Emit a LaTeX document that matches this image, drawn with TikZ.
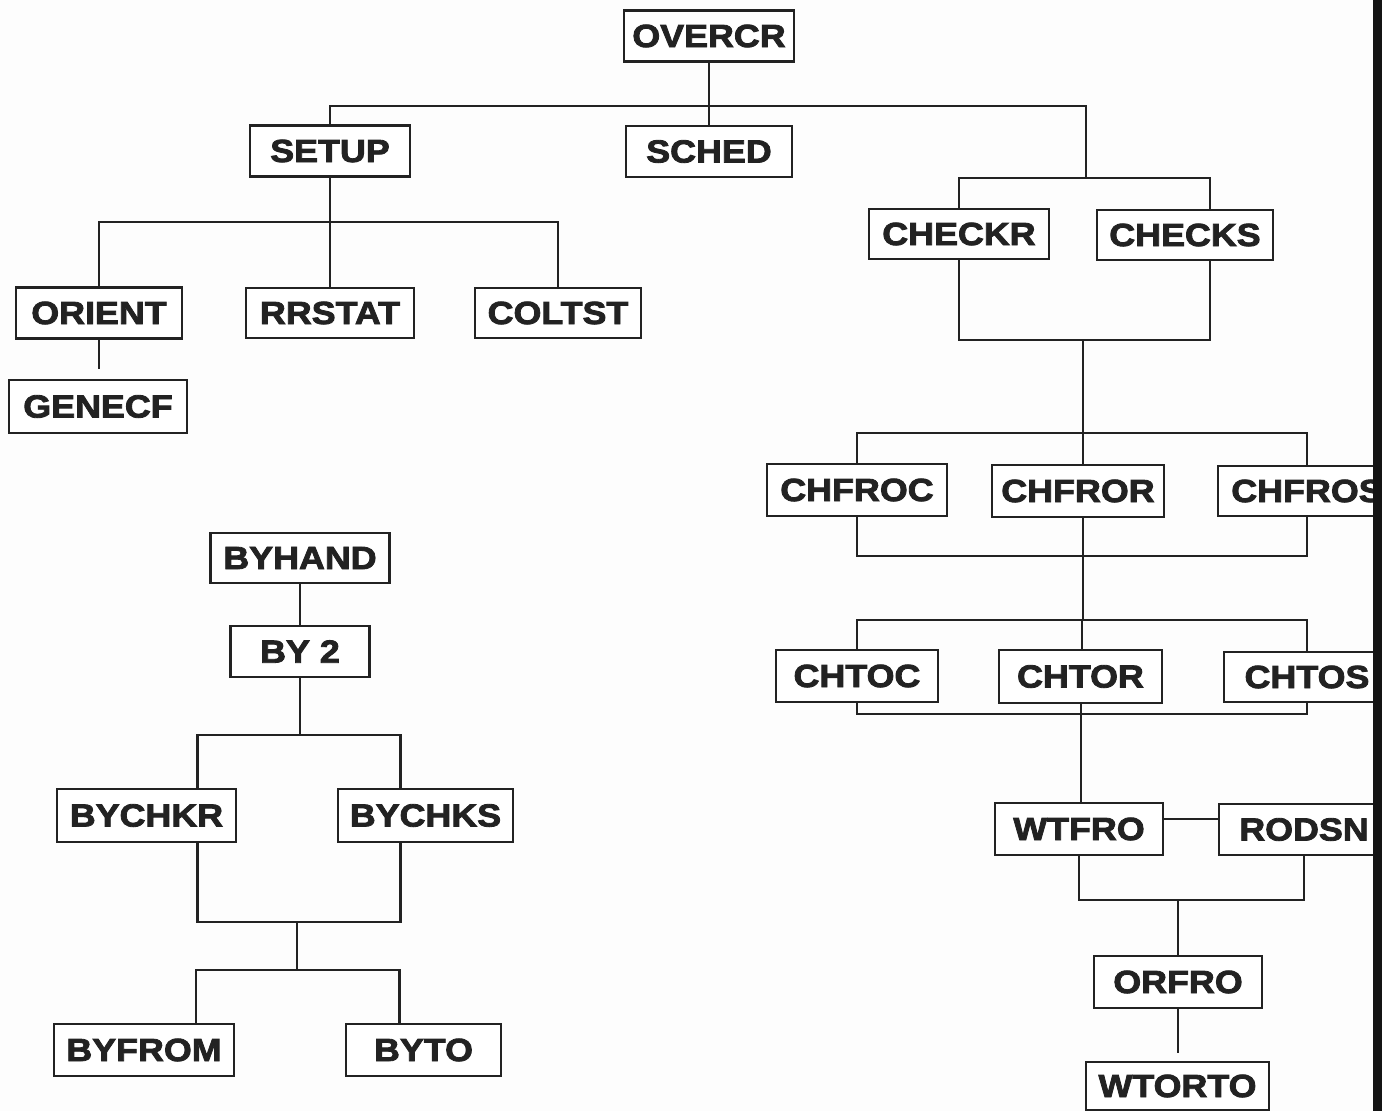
\documentclass[tikz,border=0pt]{standalone}
\usepackage{fontspec}
\newfontfamily\lblfont[FakeStretch=1.12,FakeBold=2.6]{Liberation Sans}
\usetikzlibrary{calc}
\definecolor{ink}{HTML}{222222}
\definecolor{paper}{HTML}{FDFDFD}
\tikzset{
  box/.style={draw=ink, line width=2.6pt, fill=white, inner sep=0pt,
    text=ink, font=\lblfont\bfseries\fontsize{32}{36}\selectfont,
    minimum width=#1, minimum height=51pt},
  box/.default=170pt,
  link/.style={draw=ink, line width=2.3pt}
}
\begin{document}
\begin{tikzpicture}[x=1pt, y=-1pt]
\useasboundingbox (0,0) rectangle (1382,1111);
\fill[paper] (0,0) rectangle (1382,1111);
\clip (0,0) rectangle (1382,1111);

% ---------- main tree ----------
\node[box=170pt] (overcr) at (709,36) {OVERCR};
\node[box=166pt] (sched)  at (709,151.5) {SCHED};
\node[box=160pt] (setup)  at (330,151) {SETUP};
\node[box=180pt, minimum height=50pt] (checkr) at (959,234) {CHECKR};
\node[box=176pt, minimum height=50pt] (checks) at (1185,235) {CHECKS};

\node[box=166pt] (orient) at (99,313) {ORIENT};
\node[box=168pt, minimum height=50pt] (rrstat) at (330,313) {RRSTAT};
\node[box=166pt, minimum height=50pt] (coltst) at (558,313) {COLTST};
\node[box=178pt, minimum height=53pt] (genecf) at (98,406.5) {GENECF};

\node[box=180pt, minimum height=52pt] (chfroc) at (857,490) {CHFROC};
\node[box=172pt, minimum height=52pt] (chfror) at (1078,491) {CHFROR};
\node[box=178pt, minimum height=50pt] (chfros) at (1307,491) {CHFROS};

\node[box=162pt, minimum height=52pt] (chtoc) at (857,676) {CHTOC};
\node[box=163pt, minimum height=53pt] (chtor) at (1080.5,676.5) {CHTOR};
\node[box=166pt, minimum height=50pt] (chtos) at (1307,677) {CHTOS};

\node[box=168pt, minimum height=52pt] (wtfro) at (1079,829) {WTFRO};
\node[box=170pt] (rodsn) at (1304,829.5) {RODSN};
\node[box=168pt, minimum height=52pt] (orfro) at (1178,982) {ORFRO};
\node[box=183pt, minimum height=48pt] (wtorto) at (1177.5,1086) {WTORTO};

% ---------- BYHAND tree ----------
\node[box=179pt, minimum height=50pt] (byhand) at (300,558) {BYHAND};
\node[box=139pt] (by2) at (300,651.5) {BY 2};
\node[box=179pt, minimum height=53pt] (bychkr) at (146.5,815.5) {BYCHKR};
\node[box=175pt, minimum height=53pt] (bychks) at (425.5,815.5) {BYCHKS};
\node[box=180pt, minimum height=52pt] (byfrom) at (144,1050) {BYFROM};
\node[box=155pt, minimum height=52pt] (byto) at (423.5,1050) {BYTO};

% ---------- junction points ----------
\coordinate (topbar) at (709,106);
\coordinate (chkbar) at (1086,178);
\coordinate (sbar)   at (330,222);
\coordinate (cbar)   at (1083,340);
\coordinate (fbar)   at (1083,433);
\coordinate (frbot)  at (1083,556);
\coordinate (tbar)   at (1082,620);
\coordinate (tbot)   at (1081,714);
\coordinate (wbar)   at (1178,900);
\coordinate (bybar)  at (300,735);
\coordinate (bybot)  at (297,922);
\coordinate (bylow)  at (297,970);

% ---------- connectors ----------
\path[link] (overcr.south) -- (sched.north);
\path[link] (setup.north) |- (topbar) -| (chkbar);
\path[link] (checkr.north) |- (chkbar) -| ([xshift=25pt]checks.north);

\path[link] (setup.south) -- (rrstat.north);
\path[link] (orient.north) |- (sbar) -| (coltst.north);
\path[link] (orient.south) -- ([yshift=10pt]orient.south |- genecf.north);

\path[link] (checkr.south) |- (cbar) -| ([xshift=25pt]checks.south);
\path[link] (cbar) -- (fbar);
\path[link] (chfroc.north) |- (fbar) -| (chfros.north);
\path[link] (fbar) -- (fbar |- chfror.north);

\path[link] (chfroc.south) |- (frbot) -| (chfros.south);
\path[link] (frbot |- chfror.south) -- (frbot |- tbar);
\path[link] (chtoc.north) |- (tbar) -| (chtos.north);
\path[link] (tbar) -- (tbar |- chtor.north);

\path[link] (chtoc.south) |- (tbot) -| (chtos.south);
\path[link] (tbot |- chtor.south) -- (tbot |- wtfro.north);

\path[link] ([yshift=10pt]wtfro.east) -- ([yshift=10pt]wtfro.east -| rodsn.west);
\path[link] (wtfro.south) |- (wbar) -| (rodsn.south);
\path[link] (wbar) -- (orfro.north);
\path[link] (orfro.south) -- ([yshift=8pt]orfro.south |- wtorto.north);

\path[link] (byhand.south) -- (by2.north);
\path[link] (by2.south) -- (bybar);
\path[link] ([xshift=51pt]bychkr.north) |- (bybar) -| ([xshift=-25pt]bychks.north);
\path[link] ([xshift=51pt]bychkr.south) |- (bybot) -| ([xshift=-25pt]bychks.south);
\path[link] (bybot) -- (bylow);
\path[link] ([xshift=52pt]byfrom.north) |- (bylow) -| ([xshift=-24pt]byto.north);

% dark strip along the right edge
\fill[black!92] (1373,0) rectangle (1382,1111);
\end{tikzpicture}
\end{document}
